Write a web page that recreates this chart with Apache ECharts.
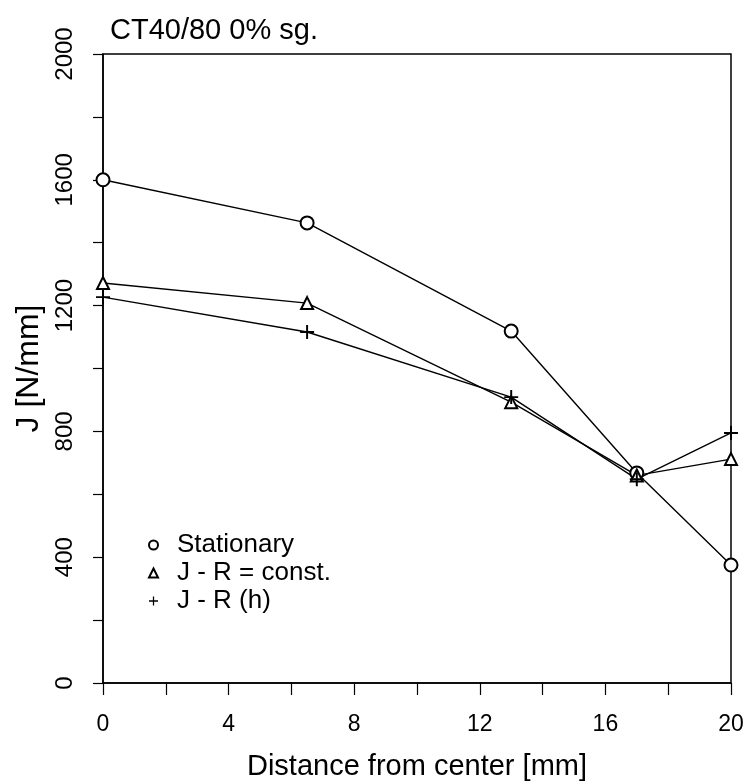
<!DOCTYPE html>
<html><head><meta charset="utf-8">
<script src="https://cdn.jsdelivr.net/npm/echarts@6/dist/echarts.min.js"></script>
<style>html,body{margin:0;padding:0;background:#fff}#c{width:743px;height:781px}</style>
</head><body><div id="c"></div>
<script>
const xValues = [0, 6.5, 13, 17, 20];
const stationary = [1600, 1463, 1119, 668, 375];
const jrConst = [1272, 1208, 893, 660, 712];
const jrH = [1227, 1116, 909, 648, 795];
const seriesNames = ['Stationary', 'J - R = const.', 'J - R (h)'];
const titleText = 'CT40/80 0% sg.';
const xName = 'Distance from center [mm]';
const yName = 'J [N/mm]';

const plusPath = 'path://M4.3,0H5.7V4.3H10V5.7H5.7V10H4.3V5.7H0V4.3H4.3Z';
const font = 'Liberation Sans, Arial, sans-serif';
function pts(v){ return xValues.map((x,i)=>[x, v[i]]); }

const chart = echarts.init(document.getElementById('c'));
chart.setOption({
  animation:false,
  backgroundColor:'#fff',
  title:{text:titleText,left:105,top:11,textStyle:{fontFamily:font,fontSize:29,fontWeight:'normal',color:'#000'}},
  grid:{left:103,right:12,top:54,bottom:98,show:true,borderColor:'#000',borderWidth:1.5,
        containLabel:false,outerBoundsMode:'none'},
  legend:{
    orient:'vertical',left:143,top:527,itemGap:2,itemWidth:9,itemHeight:9,
    textStyle:{fontFamily:font,fontSize:26,color:'#000',padding:[0,0,0,14]},
    data:[
      {name:seriesNames[0],icon:'emptyCircle'},
      {name:seriesNames[1],icon:'emptyTriangle'},
      {name:seriesNames[2],icon:plusPath}
    ]
  },
  xAxis:{type:'value',min:0,max:20,interval:2,
    name:xName,nameLocation:'middle',nameGap:69,
    nameTextStyle:{fontFamily:font,fontSize:29,color:'#000'},
    axisLine:{lineStyle:{color:'#000',width:1.5}},
    axisTick:{show:true,inside:false,length:12,lineStyle:{color:'#000',width:1.2}},
    splitLine:{show:false},
    axisLabel:{fontFamily:font,fontSize:23,color:'#000',margin:30,
      formatter:v=> (v%4===0? String(v):'')}
  },
  yAxis:{type:'value',min:0,max:2000,interval:200,
    name:yName,nameLocation:'middle',nameGap:58,nameRotate:90,
    nameTextStyle:{fontFamily:font,fontSize:32,color:'#000'},
    axisLine:{lineStyle:{color:'#000',width:1.5}},
    axisTick:{show:true,inside:false,length:10,lineStyle:{color:'#000',width:1.2}},
    splitLine:{show:false},
    axisLabel:{fontFamily:font,fontSize:24,color:'#000',rotate:90,margin:26,
      formatter:v=> (v%400===0? String(v):'')}
  },
  series:[
    {name:seriesNames[0],type:'line',data:pts(stationary),symbol:'emptyCircle',symbolSize:13,
     lineStyle:{color:'#000',width:1.4},itemStyle:{color:'#000',borderWidth:1.5}},
    {name:seriesNames[1],type:'line',data:pts(jrConst),symbol:'emptyTriangle',symbolSize:12,
     lineStyle:{color:'#000',width:1.4},itemStyle:{color:'#000',borderWidth:1.5}},
    {name:seriesNames[2],type:'line',data:pts(jrH),symbol:plusPath,symbolSize:14,
     lineStyle:{color:'#000',width:1.4},itemStyle:{color:'#000'}}
  ]
});
</script></body></html>
